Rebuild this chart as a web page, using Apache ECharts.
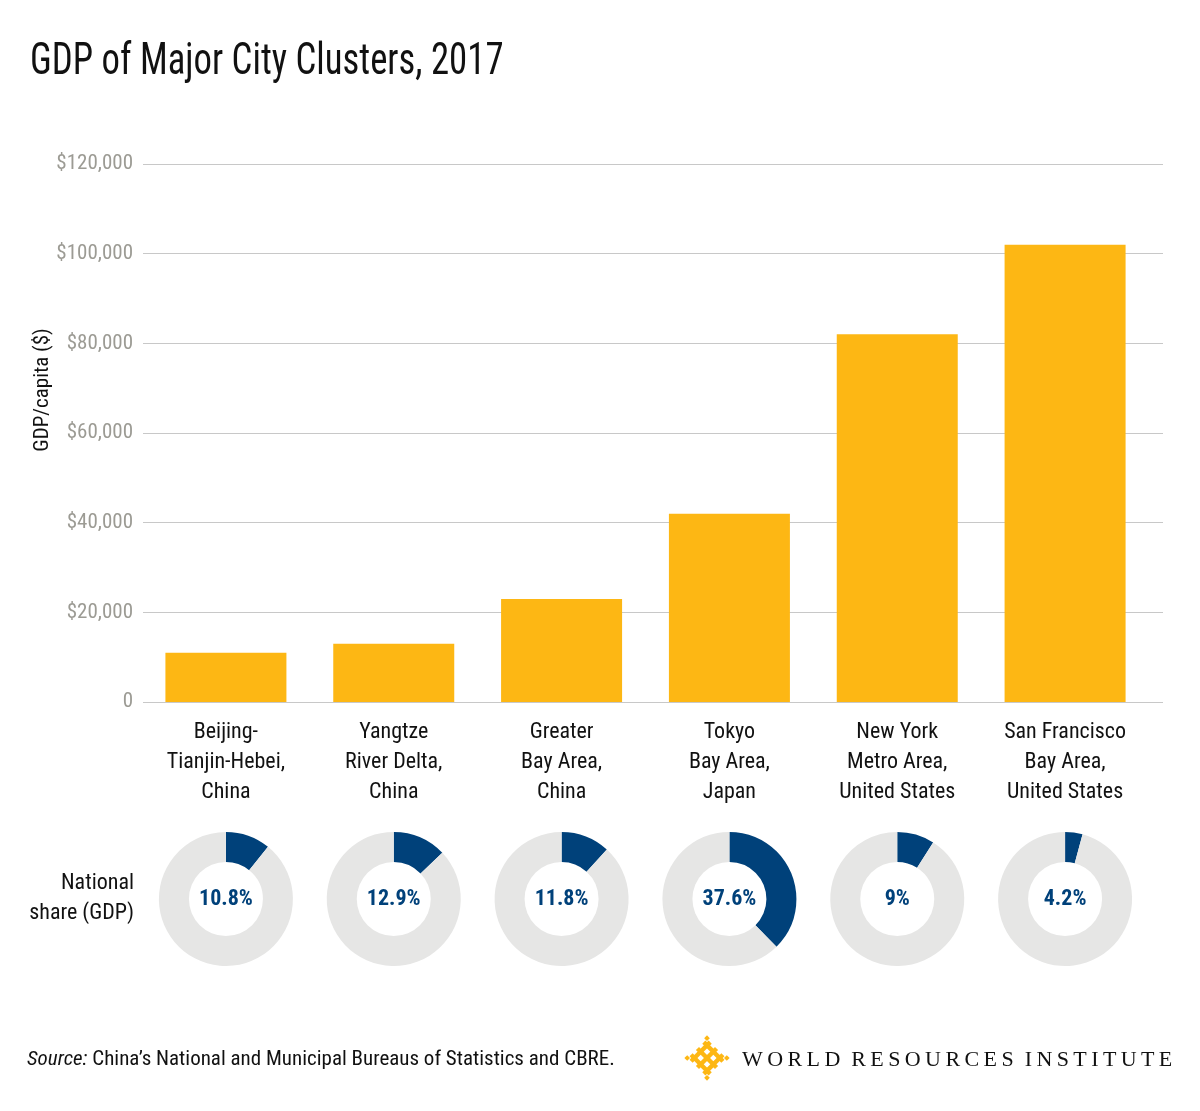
<!DOCTYPE html>
<html><head><meta charset="utf-8">
<script src="https://cdn.jsdelivr.net/npm/echarts@6/dist/echarts.min.js"></script>
<style>html,body{margin:0;padding:0;background:#fff}#c{width:1200px;height:1111px}</style>
</head><body><div id="c"></div>
<script>
var categories = ['Beijing-\nTianjin-Hebei,\nChina','Yangtze\nRiver Delta,\nChina','Greater\nBay Area,\nChina','Tokyo\nBay Area,\nJapan','New York\nMetro Area,\nUnited States','San Francisco\nBay Area,\nUnited States'];
var gdpPerCapita = [11000, 13000, 23000, 42000, 82000, 102000];
var nationalShare = [10.8, 12.9, 11.8, 37.6, 9, 4.2];
var shareLabels = ['10.8%','12.9%','11.8%','37.6%','9%','4.2%'];

var F = '"Liberation Sans Narrow","Roboto Condensed","DejaVu Sans Condensed",sans-serif';
var chart = echarts.init(document.getElementById('c'), null, {renderer:'canvas'});
var W = 1200, gl = 142, gr = 51, gTop = 164, gBot = 409;
var catW = (W - gl - gr) / categories.length;
var series = [{
  type:'bar', data: gdpPerCapita, barWidth: 121, xAxisIndex:0, yAxisIndex:0, z:3,
  itemStyle:{color:'#FDB714'}, silent:true
}];
nationalShare.forEach(function(v,i){
  series.push({
    type:'pie', radius:[37,67], center:[gl + catW*(i+0.5), 899],
    startAngle:90, clockwise:true, silent:true, animation:false,
    label:{show:false},
    labelLine:{show:false},
    data:[
      {value:v, itemStyle:{color:'#00417A'}, label:{show:true, position:'center', formatter: shareLabels[i], fontFamily:F, fontWeight:'bold', fontSize:22, color:'#00417A', padding:[4,0,0,0]}},
      {value:100-v, itemStyle:{color:'#E6E6E5'}}
    ]
  });
});
var logo = [];
for (var k=-1;k<=1;k++){
  logo.push({type:'rect', shape:{x:-13.5, y:k*9-2.2, width:27, height:4.4}, style:{fill:'#FDB714'}});
  logo.push({type:'rect', shape:{x:k*9-2.2, y:-13.5, width:4.4, height:27}, style:{fill:'#FDB714'}});
}
[[-14,-14],[14,-14],[-14,14],[14,14]].forEach(function(p){
  logo.push({type:'rect', shape:{x:p[0]-2, y:p[1]-2, width:4, height:4}, style:{fill:'#FDB714'}});
});
var sp = '\u2009';
function spaced(s){return s.split(' ').map(function(w){return w.split('').join(sp);}).join('\u2002');}
chart.setOption({
  animation:false,
  backgroundColor:'#fff',
  grid:[
    {left:gl, right:gr, top:gTop, bottom:gBot, containLabel:false},
    {left:143, right:37, top:gTop, bottom:gBot, containLabel:false}
  ],
  xAxis:[
    {type:'category', data:categories, gridIndex:0,
      axisLine:{show:false}, axisTick:{show:false},
      axisLabel:{color:'#111', fontFamily:F, fontSize:22, lineHeight:30, margin:15, interval:0}},
    {type:'category', data:categories, gridIndex:1, show:false}
  ],
  yAxis:[
    {type:'value', gridIndex:0, min:0, max:120000, interval:20000,
      axisLine:{show:false}, axisTick:{show:false}, splitLine:{show:false},
      axisLabel:{color:'#9C9B94', fontFamily:F, fontSize:21, margin:9, padding:[5,0,0,0],
        formatter:function(v){return v===0?'0':'$'+v.toLocaleString('en-US');}}},
    {type:'value', gridIndex:1, min:0, max:120000, interval:20000,
      axisLine:{show:false}, axisTick:{show:false}, axisLabel:{show:false},
      splitLine:{lineStyle:{color:'#C8C8C8', width:1}}}
  ],
  series: series,
  graphic:[
    {type:'text', left:30, top:41, scaleX:0.835, style:{text:'GDP of Major City Clusters, 2017', fontFamily:F, fontSize:44, fill:'#111'}},
    {type:'text', x:43, y:390, rotation:Math.PI/2, style:{text:'GDP/capita ($)', fontFamily:F, fontSize:21, fill:'#111', align:'center', verticalAlign:'middle'}},
    {type:'text', x:134, y:898, style:{text:'National\nshare (GDP)', fontFamily:F, fontSize:22, lineHeight:30, fill:'#111', align:'right', verticalAlign:'middle'}},
    {type:'text', x:27, y:1060, style:{text:'{i|Source:} China’s National and Municipal Bureaus of Statistics and CBRE.', fontFamily:F, fontSize:21, fill:'#111', verticalAlign:'middle',
      rich:{i:{fontStyle:'italic', fontFamily:F, fontSize:21, fill:'#111'}}}},
    {type:'group', x:707, y:1058, rotation:Math.PI/4, children:logo},
    {type:'text', x:742, y:1060, style:{text:spaced('WORLD RESOURCES INSTITUTE'), fontFamily:'"Liberation Serif","DejaVu Serif",serif', fontSize:22, fill:'#111', verticalAlign:'middle'}}
  ]
});
</script></body></html>
